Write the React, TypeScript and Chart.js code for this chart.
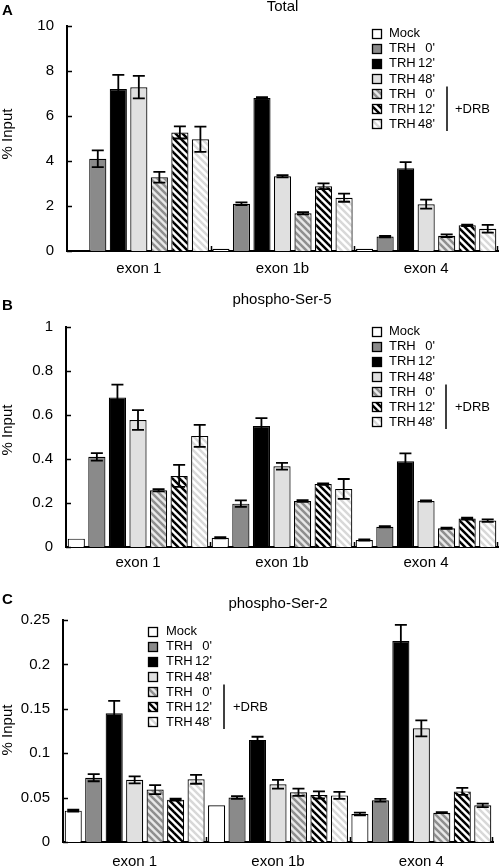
import React, { useEffect, useRef } from "react";
import { Chart, registerables } from "chart.js";
Chart.register(...registerables);

// ---------- data ----------
const categories = ["exon 1", "exon 1b", "exon 4"];
const seriesNames = ["Mock", "TRH 0'", "TRH 12'", "TRH 48'", "TRH 0'", "TRH 12'", "TRH 48'"];
const drbLabel = "+DRB";
const yAxisTitle = "% Input";

// Panel A: Total
const totalMock = [0, 0.1, 0.1];
const totalTrh0 = [4.1, 2.1, 0.64];
const totalTrh12 = [7.2, 6.8, 3.68];
const totalTrh48 = [7.28, 3.32, 2.08];
const totalDrb0 = [3.28, 1.68, 0.68];
const totalDrb12 = [5.27, 2.88, 1.14];
const totalDrb48 = [4.97, 2.37, 0.99];
const totalMockErr = [0, 0, 0];
const totalTrh0Err = [0.37, 0.06, 0.03];
const totalTrh12Err = [0.63, 0.04, 0.27];
const totalTrh48Err = [0.5, 0.05, 0.2];
const totalDrb0Err = [0.24, 0.05, 0.06];
const totalDrb12Err = [0.27, 0.13, 0.03];
const totalDrb48Err = [0.56, 0.18, 0.17];
const totalTicks = [0, 2, 4, 6, 8, 10];

// Panel B: phospho-Ser-5
const ser5Mock = [0.038, 0.042, 0.032];
const ser5Trh0 = [0.41, 0.197, 0.092];
const ser5Trh12 = [0.68, 0.55, 0.39];
const ser5Trh48 = [0.577, 0.367, 0.209];
const ser5Drb0 = [0.258, 0.209, 0.085];
const ser5Drb12 = [0.323, 0.286, 0.129];
const ser5Drb48 = [0.505, 0.264, 0.12];
const ser5MockErr = [0, 0.003, 0.003];
const ser5Trh0Err = [0.017, 0.015, 0.003];
const ser5Trh12Err = [0.058, 0.036, 0.036];
const ser5Trh48Err = [0.045, 0.015, 0.003];
const ser5Drb0Err = [0.005, 0.004, 0.003];
const ser5Drb12Err = [0.05, 0.003, 0.004];
const ser5Drb48Err = [0.05, 0.045, 0.006];
const ser5Ticks = [0, 0.2, 0.4, 0.6, 0.8, 1];

// Panel C: phospho-Ser-2
const ser2Mock = [0.0353, 0.0413, 0.0315];
const ser2Trh0 = [0.0724, 0.05, 0.047];
const ser2Trh12 = [0.145, 0.115, 0.2264];
const ser2Trh48 = [0.07, 0.065, 0.128];
const ser2Drb0 = [0.059, 0.056, 0.033];
const ser2Drb12 = [0.0477, 0.053, 0.057];
const ser2Drb48 = [0.0706, 0.0525, 0.0413];
const ser2MockErr = [0.001, 0, 0.0015];
const ser2Trh0Err = [0.004, 0.0015, 0.0015];
const ser2Trh12Err = [0.014, 0.0035, 0.018];
const ser2Trh48Err = [0.004, 0.005, 0.009];
const ser2Drb0Err = [0.005, 0.004, 0.0005];
const ser2Drb12Err = [0.001, 0.004, 0.004];
const ser2Drb48Err = [0.005, 0.004, 0.002];
const ser2Ticks = [0, 0.05, 0.1, 0.15, 0.2, 0.25];

// ---------- panel setup ----------
const FONT = '"Liberation Sans", Arial, Helvetica, sans-serif';

type PanelCfg = {
  letter: string;
  title: string;
  values: number[][];
  errors: number[][];
  ticks: number[];
  height: number;
  padTop: number;
  padRight: number;
  yWidth: number;
  xHeight: number;
  xPad: number;
  titleY: number;
  letterY: number;
  yTitleY: number;
  legend: { boxX: number; textX: number; timeRight: number; y0: number; dy: number; bracketX: number; drbX: number };
};

const panels: PanelCfg[] = [
  {
    letter: "A",
    title: "Total",
    values: [totalMock, totalTrh0, totalTrh12, totalTrh48, totalDrb0, totalDrb12, totalDrb48],
    errors: [totalMockErr, totalTrh0Err, totalTrh12Err, totalTrh48Err, totalDrb0Err, totalDrb12Err, totalDrb48Err],
    ticks: totalTicks,
    height: 285, padTop: 26, padRight: 1, yWidth: 67, xHeight: 34, xPad: 9,
    titleY: 7, letterY: 11, yTitleY: 134,
    legend: { boxX: 372, textX: 389, timeRight: 435, y0: 33, dy: 15.15, bracketX: 447, drbX: 455 },
  },
  {
    letter: "B",
    title: "phospho-Ser-5",
    values: [ser5Mock, ser5Trh0, ser5Trh12, ser5Trh48, ser5Drb0, ser5Drb12, ser5Drb48],
    errors: [ser5MockErr, ser5Trh0Err, ser5Trh12Err, ser5Trh48Err, ser5Drb0Err, ser5Drb12Err, ser5Drb48Err],
    ticks: ser5Ticks,
    height: 290, padTop: 42, padRight: 1, yWidth: 66, xHeight: 28, xPad: 7,
    titleY: 15, letterY: 21, yTitleY: 145,
    legend: { boxX: 372, textX: 389, timeRight: 435, y0: 46, dy: 15.15, bracketX: 446, drbX: 455 },
  },
  {
    letter: "C",
    title: "phospho-Ser-2",
    values: [ser2Mock, ser2Trh0, ser2Trh12, ser2Trh48, ser2Drb0, ser2Drb12, ser2Drb48],
    errors: [ser2MockErr, ser2Trh0Err, ser2Trh12Err, ser2Trh48Err, ser2Drb0Err, ser2Drb12Err, ser2Drb48Err],
    ticks: ser2Ticks,
    height: 292, padTop: 45, padRight: 6, yWidth: 63, xHeight: 25, xPad: 11,
    titleY: 29, letterY: 25, yTitleY: 155,
    legend: { boxX: 148, textX: 166, timeRight: 212, y0: 56, dy: 15.15, bracketX: 224, drbX: 233 },
  },
];

function stripePattern(fg: string, bg: string): CanvasPattern | string {
  const s = 7;
  const c = document.createElement("canvas");
  c.width = s;
  c.height = s;
  const g = c.getContext("2d");
  if (!g) return fg;
  g.fillStyle = bg;
  g.fillRect(0, 0, s, s);
  g.strokeStyle = fg;
  g.lineWidth = 2.5;
  for (const o of [-s, 0, s]) {
    g.beginPath();
    g.moveTo(o - 1, -1);
    g.lineTo(o + s + 1, s + 1);
    g.stroke();
  }
  return g.createPattern(c, "repeat") || fg;
}

function makeFills() {
  return [
    "#ffffff",
    "#8a8a8a",
    "#000000",
    "#e0e0e0",
    stripePattern("#8e8e8e", "#e8e8e8"),
    stripePattern("#000000", "#ffffff"),
    stripePattern("#d8d8d8", "#ffffff"),
  ];
}

function makeDecor(cfg: PanelCfg, fills: any[]) {
  return {
    id: "decor" + cfg.letter,
    afterDatasetsDraw(chart: any) {
      const ctx = chart.ctx as CanvasRenderingContext2D;
      const ys = chart.scales.y;
      ctx.save();
      ctx.strokeStyle = "#000";
      ctx.lineWidth = 1.8;
      chart.data.datasets.forEach((ds: any, i: number) => {
        const meta = chart.getDatasetMeta(i);
        meta.data.forEach((bar: any, j: number) => {
          const v = ds.data[j];
          const e = cfg.errors[i][j];
          if (!e) return;
          const yt = ys.getPixelForValue(v + e);
          const yb = ys.getPixelForValue(Math.max(0, v - e));
          const x = bar.x;
          const hw = 6;
          ctx.beginPath();
          ctx.moveTo(x, yb);
          ctx.lineTo(x, yt);
          ctx.moveTo(x - hw, yt);
          ctx.lineTo(x + hw, yt);
          ctx.moveTo(x - hw, yb);
          ctx.lineTo(x + hw, yb);
          ctx.stroke();
        });
      });
      ctx.restore();
    },
    afterDraw(chart: any) {
      const ctx = chart.ctx as CanvasRenderingContext2D;
      const ca = chart.chartArea;
      const xs = chart.scales.x;
      const ys = chart.scales.y;
      ctx.save();
      ctx.strokeStyle = "#000";
      ctx.fillStyle = "#000";
      // inward y ticks
      ctx.lineWidth = 1.5;
      cfg.ticks.forEach((t) => {
        const y = Math.round(ys.getPixelForValue(t)) + 0.5;
        ctx.beginPath();
        ctx.moveTo(ca.left, y);
        ctx.lineTo(ca.left + 5, y);
        ctx.stroke();
      });
      // category separators on x axis
      const seps: number[] = [];
      for (let i = 0; i < categories.length - 1; i++) {
        seps.push((xs.getPixelForValue(i) + xs.getPixelForValue(i + 1)) / 2);
      }
      seps.push(ca.right - 1);
      seps.forEach((x) => {
        const xx = Math.round(x) + 0.5;
        ctx.beginPath();
        ctx.moveTo(xx, ca.bottom);
        ctx.lineTo(xx, ca.bottom - 5);
        ctx.stroke();
      });
      // title
      ctx.textBaseline = "middle";
      ctx.textAlign = "center";
      ctx.font = `15px ${FONT}`;
      ctx.fillText(cfg.title, (ca.left + ca.right) / 2, cfg.titleY);
      // letter
      ctx.textAlign = "left";
      ctx.font = `bold 15px ${FONT}`;
      ctx.fillText(cfg.letter, 2, cfg.letterY);
      // y axis title
      ctx.save();
      ctx.translate(8, cfg.yTitleY);
      ctx.rotate(-Math.PI / 2);
      ctx.textAlign = "center";
      ctx.font = `15px ${FONT}`;
      ctx.fillText(yAxisTitle, 0, 0);
      ctx.restore();
      // legend
      const L = cfg.legend;
      ctx.font = `13px ${FONT}`;
      ctx.textBaseline = "middle";
      seriesNames.forEach((name, k) => {
        const cy = L.y0 + k * L.dy;
        const bs = 9;
        const by = Math.round(cy - bs / 2);
        ctx.fillStyle = fills[k];
        ctx.fillRect(L.boxX, by, bs, bs);
        ctx.lineWidth = 1.3;
        ctx.strokeRect(L.boxX + 0.5, by + 0.5, bs, bs);
        ctx.fillStyle = "#000";
        const parts = name.split(" ");
        ctx.textAlign = "left";
        ctx.fillText(parts[0], L.textX, cy + 0.5);
        if (parts[1]) {
          ctx.textAlign = "right";
          ctx.fillText(parts[1], L.timeRight, cy + 0.5);
        }
      });
      const r4 = L.y0 + 4 * L.dy;
      const r5 = L.y0 + 5 * L.dy;
      const r6 = L.y0 + 6 * L.dy;
      ctx.lineWidth = 1.5;
      ctx.beginPath();
      ctx.moveTo(L.bracketX, r4 - 7);
      ctx.lineTo(L.bracketX, r6 + 7);
      ctx.stroke();
      ctx.textAlign = "left";
      ctx.fillText(drbLabel, L.drbX, r5 + 0.5);
      ctx.restore();
    },
  };
}

function Panel({ cfg }: { cfg: PanelCfg }) {
  const ref = useRef<HTMLCanvasElement | null>(null);
  useEffect(() => {
    if (!ref.current) return;
    const fills = makeFills();
    const chart = new Chart(ref.current, {
      type: "bar",
      data: {
        labels: categories,
        datasets: cfg.values.map((vals, i) => ({
          label: seriesNames[i],
          data: vals,
          backgroundColor: fills[i] as any,
          borderColor: "#000",
          borderWidth: 1.2,
          borderSkipped: "start",
          categoryPercentage: 1,
          barPercentage: 0.835,
        })),
      },
      options: {
        responsive: false,
        animation: false,
        devicePixelRatio: 1,
        layout: { padding: { top: cfg.padTop, right: cfg.padRight, left: 0, bottom: 0 } },
        plugins: { legend: { display: false }, tooltip: { enabled: false }, title: { display: false } },
        scales: {
          x: {
            type: "category",
            grid: { display: false, drawTicks: false },
            border: { display: true, color: "#000", width: 2 },
            ticks: { color: "#000", font: { family: FONT, size: 15 }, padding: cfg.xPad, maxRotation: 0 },
            afterFit: (s: any) => {
              s.height = cfg.xHeight;
            },
          },
          y: {
            min: cfg.ticks[0],
            max: cfg.ticks[cfg.ticks.length - 1],
            grid: { display: false, drawTicks: false },
            border: { display: true, color: "#000", width: 2 },
            ticks: {
              color: "#000",
              font: { family: FONT, size: 15 },
              padding: 13,
              callback: (v: any) => String(+Number(v).toFixed(4)),
            },
            afterBuildTicks: (s: any) => {
              s.ticks = cfg.ticks.map((v) => ({ value: v }));
            },
            afterFit: (s: any) => {
              s.width = cfg.yWidth;
            },
          },
        },
      },
      plugins: [makeDecor(cfg, fills)],
    } as any);
    return () => chart.destroy();
  }, [cfg]);
  return <canvas ref={ref} width={499} height={cfg.height} style={{ display: "block", width: 499, height: cfg.height }} />;
}

export default function App() {
  return (
    <div style={{ position: "absolute", top: 0, left: 0, width: 499, height: 867, background: "#fff", overflow: "hidden" }}>
      {panels.map((p) => (
        <Panel key={p.letter} cfg={p} />
      ))}
    </div>
  );
}
